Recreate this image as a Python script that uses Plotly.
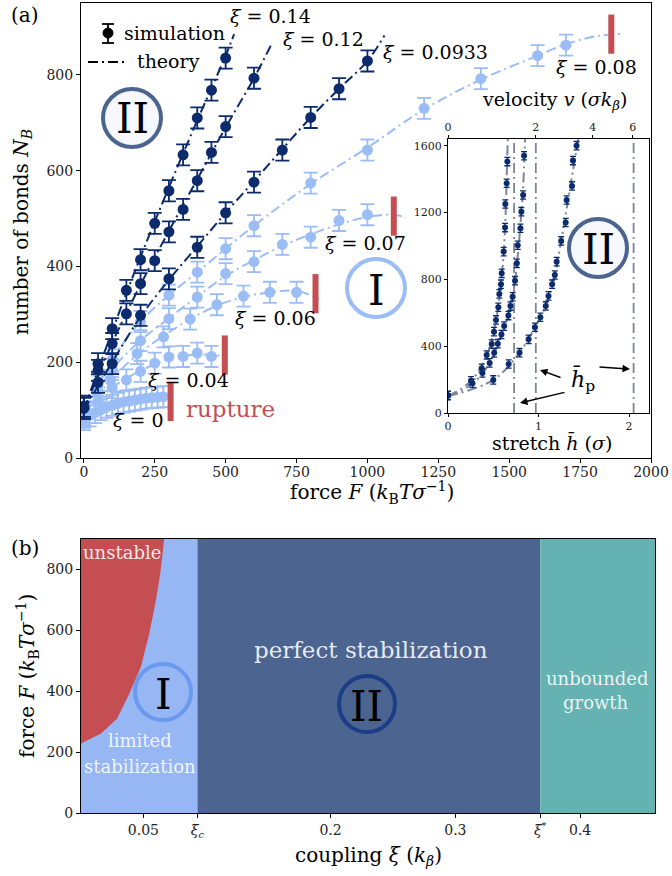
import plotly.graph_objects as go

W, H = 672, 876
def px(x): return x / W
def py(y): return 1 - y / H

FONT = "DejaVu Serif"
DARK = "#0b2b6d"
LIGHT = "#9bbdf6"
RED = "#c44e52"
GRAYL = "#7d8598"
DASH = "10px,4px,2px,4px"

# ---------------- panel (a) data ----------------
F14 = [0, 50, 100, 150, 200, 250, 300, 350, 400, 450, 500]
N14 = [108, 197, 270, 350, 414, 490, 558, 633, 710, 768, 835]
F12 = [0, 50, 100, 150, 200, 250, 300, 350, 400, 450, 500, 600]
N12 = [104, 183, 239, 301, 364, 412, 472, 519, 579, 638, 692, 793]
F0933 = [0, 50, 100, 200, 300, 400, 500, 600, 700, 800, 900, 1000]
N0933 = [104, 158, 197, 298, 374, 440, 512, 576, 643, 711, 771, 829]
F08 = [0, 50, 100, 200, 300, 400, 500, 600, 800, 1000, 1200, 1400, 1600, 1700]
N08 = [92, 150, 205, 285, 340, 388, 437, 485, 574, 643, 730, 792, 840, 862]
F07 = [0, 50, 100, 200, 300, 400, 500, 600, 700, 800, 900, 1000]
N07 = [90, 140, 185, 245, 291, 336, 385, 410, 446, 461, 496, 508]
F06 = [0, 94, 188, 281, 375, 469, 563, 656, 750]
N06 = [88, 162, 218, 253, 290, 320, 338, 346, 346]
F04 = [0, 50, 100, 150, 200, 250, 300, 350, 400, 450]
N04 = [85, 118, 147, 163, 181, 198, 211, 212, 219, 212]
F00 = [0, 20, 40, 60, 80, 100, 120, 140, 160, 180, 200, 220, 240, 260, 280]
N00 = [80, 88, 95, 101, 106, 110, 114, 117, 119, 121, 123, 125, 126, 127, 128]
ERR_DARK = 22
ERR_LIGHT = 22

# theory curves
TF14 = [0, 100, 200, 300, 400, 500, 530]
TN14 = [100, 265, 420, 565, 705, 840, 885]
TF12 = [0, 100, 200, 300, 400, 500, 600, 665]
TN12 = [100, 240, 362, 474, 582, 690, 793, 868]
TF0933 = [0, 100, 200, 300, 400, 500, 600, 700, 800, 900, 1000, 1060]
TN0933 = [100, 200, 295, 372, 442, 512, 578, 645, 711, 771, 829, 882]
TF08 = [0, 100, 200, 300, 400, 600, 800, 1000, 1200, 1400, 1600, 1700, 1800, 1900]
TN08 = [90, 205, 285, 340, 388, 485, 572, 648, 728, 790, 840, 864, 880, 886]
TF07 = [0, 100, 200, 300, 400, 500, 600, 700, 800, 900, 1000, 1100, 1135]
TN07 = [90, 185, 245, 292, 337, 380, 413, 443, 467, 488, 503, 508, 500]
TF06 = [0, 94, 188, 281, 375, 469, 563, 656, 750, 830]
TN06 = [88, 162, 215, 255, 290, 318, 336, 346, 349, 332]
TF04 = [0, 100, 200, 300, 400, 490]
TN04 = [85, 147, 182, 207, 216, 213]
TF00 = [0, 100, 200, 290]
TN00 = [80, 110, 123, 128]

RUPT_F = [306, 497, 817, 1093, 1860]
RUPT_N = [118, 215, 343, 505, 885]

# ---------------- inset data ----------------
S1_H = [0, 0.254, 0.372, 0.427, 0.483, 0.508, 0.530, 0.556, 0.567, 0.585, 0.593, 0.615, 0.630, 0.633, 0.648, 0.656]
S1_N = [105, 193, 268, 347, 413, 487, 557, 633, 713, 771, 836, 966, 1110, 1251, 1375, 1505]
S2_H = [0, 0.27, 0.38, 0.46, 0.51, 0.55, 0.59, 0.62, 0.667, 0.69, 0.714, 0.74, 0.76, 0.77, 0.80, 0.81, 0.83, 0.84]
S2_N = [105, 178, 240, 300, 360, 415, 470, 520, 583, 640, 696, 792, 896, 1004, 1106, 1205, 1305, 1540]
S3_H = [0, 0.50, 0.67, 0.79, 0.89, 0.96, 1.02, 1.08, 1.11, 1.15, 1.18, 1.20, 1.25, 1.30, 1.31, 1.37, 1.38, 1.42]
S3_N = [105, 198, 293, 361, 441, 513, 573, 641, 701, 771, 826, 906, 1030, 1140, 1275, 1359, 1511, 1600]
T1_H = [0, 0.25, 0.43, 0.53, 0.59, 0.62, 0.64, 0.65, 0.66]
T1_N = [100, 190, 345, 555, 800, 1000, 1250, 1450, 1640]
T2_H = [0, 0.27, 0.46, 0.59, 0.667, 0.74, 0.78, 0.81, 0.83, 0.85]
T2_N = [100, 175, 300, 470, 585, 790, 1000, 1200, 1350, 1640]
T3_H = [0, 0.5, 0.79, 0.96, 1.08, 1.18, 1.25, 1.31, 1.38, 1.44]
T3_N = [100, 198, 361, 513, 641, 826, 1030, 1220, 1450, 1640]
ERR_INSET = 25
HP_LINES = [0.73, 0.97, 2.05]
INSET_XRANGE = [0, 2.22]
INSET_YRANGE = [0, 1640]
VEL_TICK_POS = [0, 0.97, 1.60, 2.04]
VEL_TICK_TEXT = ["0", "2", "4", "6"]

# ---------------- panel (b) data ----------------
XI_C = 0.0933
XI_STAR = 0.368
XI_MAX = 0.46
F_MAX = 900
UNST_XI = [0.0, 0.016, 0.029, 0.0387, 0.048, 0.0547, 0.060, 0.0635, 0.0667]
UNST_F = [228, 261, 310, 392, 480, 589, 698, 786, 900]
B_TICKS = [0.05, XI_C, 0.2, 0.3, XI_STAR, 0.4]
B_TICKTEXT = ["0.05", "<i>ξ</i><sub><i>c</i></sub>", "0.2", "0.3", "<i>ξ</i><sup>*</sup>", "0.4"]

fig = go.Figure()

def theory(x, y, color, xa="x", ya="y", width=2):
    fig.add_trace(go.Scatter(x=x, y=y, mode="lines", xaxis=xa, yaxis=ya,
                             line=dict(color=color, width=width, dash=DASH, shape="spline"),
                             showlegend=False, hoverinfo="skip"))

def points(x, y, color, err, size=11, xa="x", ya="y", cap=7, thick=1.8):
    fig.add_trace(go.Scatter(x=x, y=y, mode="markers", xaxis=xa, yaxis=ya,
                             marker=dict(color=color, size=size),
                             error_y=dict(type="constant", value=err, color=color,
                                          thickness=thick, width=cap),
                             showlegend=False))

for tf, tn in [(TF08, TN08), (TF07, TN07), (TF06, TN06), (TF04, TN04), (TF00, TN00)]:
    theory(tf, tn, LIGHT)
for f, n in [(F08, N08), (F07, N07), (F06, N06), (F04, N04), (F00, N00)]:
    points(f, n, LIGHT, ERR_LIGHT)
for tf, tn in [(TF14, TN14), (TF12, TN12), (TF0933, TN0933)]:
    theory(tf, tn, DARK)
for f, n in [(F14, N14), (F12, N12), (F0933, N0933)]:
    points(f, n, DARK, ERR_DARK)

fig.add_trace(go.Scatter(x=RUPT_F, y=RUPT_N, mode="markers",
                         marker=dict(symbol="line-ns-open", size=28, color=RED,
                                     line=dict(color=RED, width=6)),
                         showlegend=False, hoverinfo="skip"))

# ---------------- inset traces ----------------
for h in HP_LINES:
    fig.add_trace(go.Scatter(x=[h, h], y=INSET_YRANGE, mode="lines", xaxis="x3", yaxis="y3",
                             line=dict(color=GRAYL, width=1.8, dash=DASH),
                             showlegend=False, hoverinfo="skip"))
for th, tn in [(T1_H, T1_N), (T2_H, T2_N), (T3_H, T3_N)]:
    theory(th, tn, GRAYL, "x3", "y3", 2)
for sh, sn in [(S1_H, S1_N), (S2_H, S2_N), (S3_H, S3_N)]:
    points(sh, sn, DARK, ERR_INSET, size=6, xa="x3", ya="y3", cap=3, thick=1.3)
fig.add_trace(go.Scatter(x=INSET_XRANGE, y=INSET_YRANGE, mode="markers", xaxis="x4", yaxis="y3",
                         marker=dict(opacity=0), showlegend=False, hoverinfo="skip"))

# ---------------- panel (b) traces ----------------
def region(x0, x1, color):
    fig.add_trace(go.Scatter(x=[x0, x1, x1, x0, x0], y=[0, 0, F_MAX, F_MAX, 0],
                             mode="lines", fill="toself", fillcolor=color,
                             line=dict(width=0, color=color), xaxis="x2", yaxis="y2",
                             showlegend=False, hoverinfo="skip"))
region(0, XI_C, "#96b6f4")
region(XI_C, XI_STAR, "#4c6590")
region(XI_STAR, XI_MAX, "#64b2b2")
fig.add_trace(go.Scatter(x=UNST_XI + [0, 0], y=UNST_F + [F_MAX, UNST_F[0]],
                         mode="lines", fill="toself", fillcolor=RED,
                         line=dict(width=0, color=RED), xaxis="x2", yaxis="y2",
                         showlegend=False, hoverinfo="skip"))

# ---------------- layout ----------------
axcommon = dict(showline=True, linecolor="black", linewidth=1, mirror=True, ticks="outside",
                ticklen=4, tickwidth=1, tickcolor="black", showgrid=False, zeroline=False,
                automargin=False, tickfont=dict(family=FONT, size=14, color="#222"))
small = {**axcommon, "tickfont": dict(family=FONT, size=11, color="#222"), "ticklen": 3}
fig.update_layout(
    width=W, height=H, margin=dict(l=0, r=0, t=0, b=0, pad=0, autoexpand=False), autosize=False,
    paper_bgcolor="white", plot_bgcolor="white", showlegend=False,
    font=dict(family=FONT, color="black"),
    xaxis=dict(domain=[px(81), px(651)], range=[-10, 2000], anchor="y", ticklabelstandoff=-3,
               tickvals=[0, 250, 500, 750, 1000, 1250, 1500, 1750, 2000], **axcommon),
    yaxis=dict(domain=[py(458), py(3)], range=[0, 950], anchor="x",
               tickvals=[0, 200, 400, 600, 800], **axcommon),
    xaxis2=dict(domain=[px(81), px(655)], range=[0, XI_MAX], anchor="y2",
                tickvals=B_TICKS, ticktext=B_TICKTEXT, **axcommon),
    yaxis2=dict(domain=[py(813), py(539)], range=[0, F_MAX], anchor="x2",
                tickvals=[0, 200, 400, 600, 800], **axcommon),
    xaxis3=dict(domain=[px(448), px(649)], range=INSET_XRANGE, anchor="y3",
                tickvals=[0, 1, 2], **small),
    yaxis3=dict(domain=[py(413), py(139)], range=INSET_YRANGE, anchor="x3",
                tickvals=[0, 400, 800, 1200, 1600], **small),
    xaxis4=dict(overlaying="x3", side="top", range=INSET_XRANGE, anchor="y3",
                tickvals=VEL_TICK_POS, ticktext=VEL_TICK_TEXT, showline=True, linecolor="black",
                ticks="outside", ticklen=3, tickcolor="black", showgrid=False, zeroline=False,
                automargin=False, tickfont=dict(family=FONT, size=11, color="#222")),
)

ann = []
def text(x, y, s, size=19, color="black", angle=0, xanchor="center"):
    ann.append(dict(x=px(x), y=py(y), xref="paper", yref="paper", text=s, showarrow=False,
                    font=dict(family=FONT, size=size, color=color), textangle=angle,
                    xanchor=xanchor, yanchor="middle"))

text(25, 15, "(a)", 20)
text(25, 548, "(b)", 20)
text(270, 16, "<i>ξ</i> = 0.14")
text(323, 39, "<i>ξ</i> = 0.12")
text(435, 52, "<i>ξ</i> = 0.0933")
text(596, 67, "<i>ξ</i> = 0.08")
text(366, 243, "<i>ξ</i> = 0.07")
text(275, 318, "<i>ξ</i> = 0.06")
text(188, 380, "<i>ξ</i> = 0.04")
text(138, 420, "<i>ξ</i> = 0")
text(230, 409, "rupture", 23, RED)
text(22, 232, "number of bonds <i>N</i><sub><i>B</i></sub>", 20, angle=-90)
text(372, 493, "force <i>F</i> (<i>k</i><sub>B</sub><i>Tσ</i><sup>−1</sup>)", 20)
text(554, 101, "velocity <i>v</i> (<i>σk</i><sub><i>β</i></sub>)", 19)
text(552, 442, "stretch <i>h̄</i> (<i>σ</i>)", 19)
text(583, 380, "<i>h̄</i><sub>p</sub>", 22)
text(27, 676, "force <i>F</i> (<i>k</i><sub>B</sub><i>Tσ</i><sup>−1</sup>)", 20, angle=-90)
text(368, 856, "coupling <i>ξ</i> (<i>k</i><sub><i>β</i></sub>)", 20)
text(122, 33, "simulation", 19, xanchor="left")
text(135, 61, "theory", 19, xanchor="left")
WT = "rgba(255,255,255,0.88)"
text(122, 552, "unstable", 18, WT)
text(140, 740, "limited", 18, WT)
text(140, 766, "stabilization", 18, WT)
text(371, 650, "perfect stabilization", 23, WT)
text(597, 678, "unbounded", 18, WT)
text(596, 702, "growth", 18, WT)
text(132, 118, "II", 42)
text(376, 290, "I", 42)
text(598, 250, "II", 42)
text(163, 694, "I", 42)
text(367, 706, "II", 42)

for hx, hy, tx, ty in [(520, 403, 566, 392), (540, 370, 562, 378), (630, 369, 598, 367)]:
    ann.append(dict(x=px(hx), y=py(hy), xref="paper", yref="paper", ax=tx - hx, ay=ty - hy,
                    axref="pixel", ayref="pixel", text="", showarrow=True, arrowhead=2,
                    arrowsize=1, arrowwidth=1.5, arrowcolor="black"))
fig.update_layout(annotations=ann)

shapes = []
def circle(cx, cy, r, color, fill="rgba(0,0,0,0)", w=4):
    shapes.append(dict(type="circle", xref="paper", yref="paper",
                       x0=px(cx - r), x1=px(cx + r), y0=py(cy + r), y1=py(cy - r),
                       line=dict(color=color, width=w), fillcolor=fill, layer="above"))
def seg(x0, y0, x1, y1, w=2, dash="solid"):
    shapes.append(dict(type="line", xref="paper", yref="paper", x0=px(x0), y0=py(y0),
                       x1=px(x1), y1=py(y1), line=dict(color="black", width=w, dash=dash),
                       layer="above"))
circle(132, 118, 29, "#4c6590", "#f6f8fd")
circle(376, 288, 29, "#9bbdf6")
circle(598, 248, 29, "#4c6590", "#f6f8fd")
circle(163, 692, 28, "#6a9af0")
circle(367, 704, 28, "#1b3d86")
shapes.append(dict(type="circle", xref="paper", yref="paper", x0=px(103), x1=px(113),
                   y0=py(38), y1=py(28), fillcolor="black", line=dict(color="black", width=1),
                   layer="above"))
seg(108, 24, 108, 43, 1.8)
seg(102, 24, 114, 24, 1.8)
seg(102, 43, 114, 43, 1.8)
seg(88, 62, 128, 62, 2, DASH)
fig.update_layout(shapes=shapes)

fig.write_html("out.html")
